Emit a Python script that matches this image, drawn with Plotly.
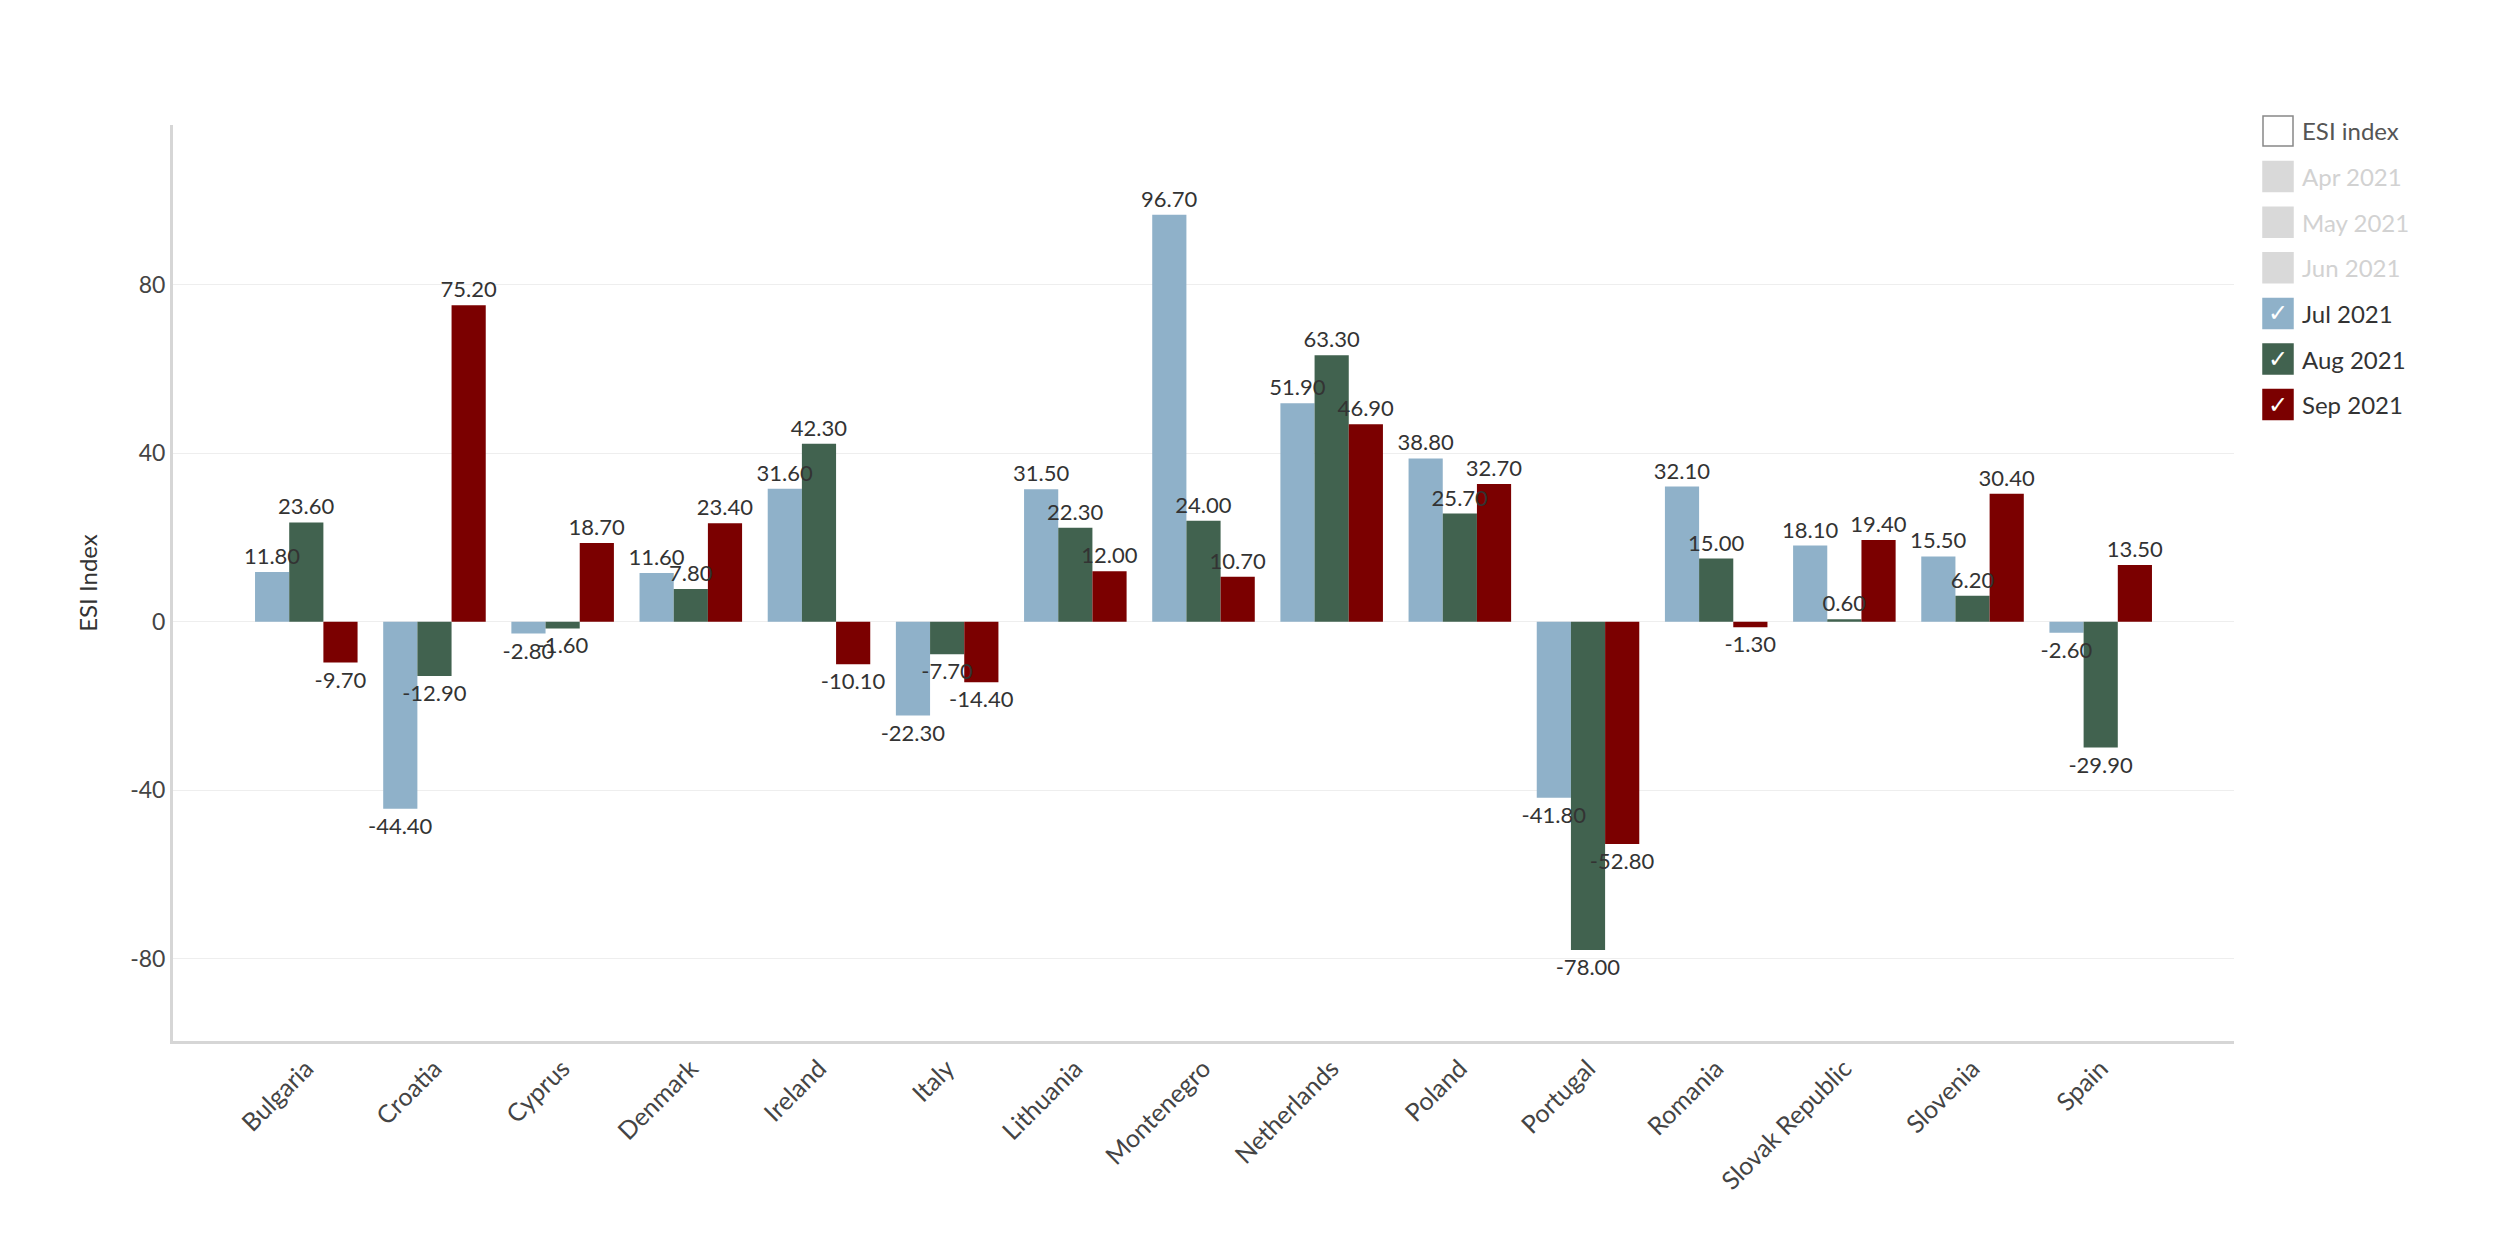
import plotly.graph_objects as go

categories = ["Bulgaria", "Croatia", "Cyprus", "Denmark", "Ireland", "Italy", "Lithuania",
              "Montenegro", "Netherlands", "Poland", "Portugal", "Romania",
              "Slovak Republic", "Slovenia", "Spain"]
jul_2021 = [11.8, -44.4, -2.8, 11.6, 31.6, -22.3, 31.5, 96.7, 51.9, 38.8, -41.8, 32.1, 18.1, 15.5, -2.6]
aug_2021 = [23.6, -12.9, -1.6, 7.8, 42.3, -7.7, 22.3, 24.0, 63.3, 25.7, -78.0, 15.0, 0.6, 6.2, -29.9]
sep_2021 = [-9.7, 75.2, 18.7, 23.4, -10.1, -14.4, 12.0, 10.7, 46.9, 32.7, -52.8, -1.3, 19.4, 30.4, 13.5]

series_names = ["Jul 2021", "Aug 2021", "Sep 2021"]
series_values = [jul_2021, aug_2021, sep_2021]
series_colors = ["#8FB1C9", "#41624F", "#7B0000"]
hidden_names = ["Apr 2021", "May 2021", "Jun 2021"]
legend_title = "ESI index"
y_ticks = [-80, -40, 0, 40, 80]
y_tick_labels = ["-80", "-40", "0", "40", "80"]

FONT = "Lato"
W, H = 2500, 1250
ML, MR, MT, MB = 173, 266, 125, 209

fig = go.Figure()

# bars
for i, (name, vals, col) in enumerate(zip(series_names, series_values, series_colors)):
    fig.add_trace(go.Bar(
        x=categories, y=vals, name=name, offsetgroup=str(i),
        marker=dict(color=col, line=dict(width=0)),
        showlegend=False,
    ))
# labels on top of all bars
for i, (name, vals) in enumerate(zip(series_names, series_values)):
    fig.add_trace(go.Bar(
        x=categories, y=vals, name=name + " labels", offsetgroup=str(i),
        marker=dict(color="rgba(0,0,0,0)", line=dict(width=0)),
        text=[f"{v:.2f}" for v in vals], textposition="outside",
        textfont=dict(family=FONT, size=22, color="#333333"),
        constraintext="none", cliponaxis=False,
        showlegend=False, hoverinfo="skip",
    ))

fig.update_layout(
    width=W, height=H,
    margin=dict(l=ML, r=MR, t=MT, b=MB, pad=0),
    paper_bgcolor="white", plot_bgcolor="white",
    barmode="group", bargap=0.2, bargroupgap=0,
    showlegend=False,
    font=dict(family=FONT, size=22, color="#444444"),
    xaxis=dict(
        range=[-1.04, 15.04], tickangle=-45,
        showgrid=False, zeroline=False,
        showline=True, linecolor="#D6D6D6", linewidth=3,
        ticks="", tickfont=dict(family=FONT, size=25, color="#444444"),
    ),
    yaxis=dict(
        range=[-99.6, 118], tickvals=y_ticks, ticktext=y_tick_labels,
        showgrid=True, gridcolor="#EEEEEE", gridwidth=1,
        zeroline=False,
        showline=True, linecolor="#D6D6D6", linewidth=3,
        ticks="", tickfont=dict(family=FONT, size=23, color="#444444"),
        title=dict(text="ESI Index", font=dict(family=FONT, size=24, color="#333333"), standoff=26),
    ),
)

# manual legend (in pixel coords converted to paper)
pw, ph = W - ML - MR, H - MT - MB
def px_x(px):
    return (px - ML) / pw
def px_y(py):
    return (H - MB - py) / ph

legend_items = [(legend_title, "box")] + [(n, "hidden") for n in hidden_names] + \
               [(n, c) for n, c in zip(series_names, series_colors)]
x0, sw, top, step = 2263, 30, 116, 45.6
for k, (label, kind) in enumerate(legend_items):
    y0 = top + k * step
    if kind == "box":
        fill, line, tcol = "white", "#888888", "#555555"
    elif kind == "hidden":
        fill, line, tcol = "#D9D9D9", "#D9D9D9", "#D2D2D2"
    else:
        fill, line, tcol = kind, kind, "#333333"
    fig.add_shape(type="rect", xref="paper", yref="paper",
                  x0=px_x(x0), x1=px_x(x0 + sw), y0=px_y(y0 + sw), y1=px_y(y0),
                  fillcolor=fill, line=dict(color=line, width=1.5))
    fig.add_annotation(xref="paper", yref="paper", x=px_x(x0 + sw + 7), y=px_y(y0 + sw / 2),
                       text=label, showarrow=False, xanchor="left", yanchor="middle",
                       font=dict(family=FONT, size=24, color=tcol))
    if kind not in ("box", "hidden"):
        fig.add_annotation(xref="paper", yref="paper", x=px_x(x0 + sw / 2), y=px_y(y0 + sw / 2),
                           text="✓", showarrow=False, xanchor="center", yanchor="middle",
                           font=dict(family="DejaVu Sans", size=24, color="white"))

fig.write_html("out.html")
